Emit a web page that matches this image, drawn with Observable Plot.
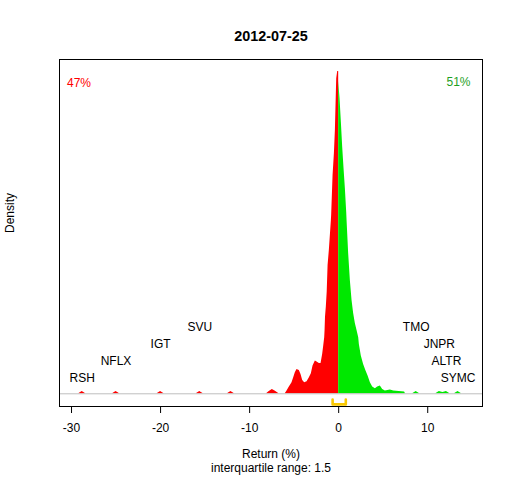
<!DOCTYPE html>
<html>
<head>
<meta charset="utf-8">
<script src="https://cdn.jsdelivr.net/npm/d3@7"></script>
<script src="https://cdn.jsdelivr.net/npm/@observablehq/plot@0.6"></script>
<style>
  html, body { margin: 0; padding: 0; background: #ffffff; }
</style>
</head>
<body>
<div id="chart"></div>
<script>
const chartTitle = "2012-07-25";
const xLabel = "Return (%)";
const iqrLabel = "interquartile range: 1.5";
const yLabel = "Density";
const pctDown = "47%";
const pctUp = "51%";
const xTicks = [-30, -20, -10, 0, 10];

// density curve (relative units), negative returns
const redX = [-29.2,-28.8,-28.4, -25.4,-25.0,-24.6, -20.4,-20.0,-19.6, -16.0,-15.6,-15.2, -12.5,-12.1,-11.7,
  -8.1,-7.8,-7.45,-7.1,-6.7,
  -6.0,-5.8,-5.54,-5.24,-5.05,-4.87,-4.68,-4.42,-4.23,-4.04,
  -3.82,-3.55,-3.29,-3.07,-2.88,-2.62,-2.43,-2.17,-1.98,-1.8,
  -1.68,-1.57,-1.53,-1.48,-1.39,-1.29,-1.19,-1.05,-0.82,-0.79,
  -0.63,-0.48,-0.37,-0.22,-0.11,0];
const redY = [0,2.3,0, 0,2.3,0, 0,2.3,0, 0,2.3,0, 0,2.3,0,
  0,2.2,4.4,2.5,0,
  0,2.7,6.7,11,16,21,24.3,23.3,19.3,13.3,
  11,12,16,20,27.7,32.7,31.7,30.3,30.3,39.3,
  47.7,56,63,76.6,86.6,101.6,128.3,143.3,173.3,178.3,
  218.3,240.3,263.3,315,322.3,322.3];

// density curve, positive returns
const greenX = [0,0.15,0.3,0.45,0.6,0.75,0.9,0.94,1.12,1.31,
  1.5,1.68,1.87,2.06,2.25,2.32,2.54,2.8,3.07,3.3,
  3.56,3.82,4.12,4.38,4.68,4.94,5.24,5.8,6.18,7.4,
  7.5, 8.3,8.7,9.1, 10.9,11.3,11.7,12.1,12.5, 13.0,13.4,13.8];
const greenY = [312.3,295.3,271.6,246.6,225.3,205.3,181.6,173.3,140.3,113.3,
  93.3,80.3,70.3,63.3,56,49.3,37.7,29.3,22.7,17.7,
  11,6.7,5,6.7,7.7,4.4,2.7,3.7,2.7,1.7,
  0, 0,2.3,0, 0,2.3,1.3,2.3,0, 0,2.3,0];

// labelled outliers
const outlierNames = ["RSH","NFLX","IGT","SVU","TMO","JNPR","ALTR","SYMC"];
const outlierReturns = [-28.8,-25.0,-20.0,-15.6,8.7,11.3,12.1,13.4];
const outlierLevels = [1,2,3,4,4,3,2,1];

// quartiles of returns
const quartiles = [-0.68, 0.8];

const redData = redX.map((x, i) => ({x, y: redY[i]}));
const greenData = greenX.map((x, i) => ({x, y: greenY[i]}));
const labelData = outlierNames.map((name, i) => ({name, ret: outlierReturns[i], level: outlierLevels[i]}));
const bracket = [
  {x: quartiles[0], y: -5.7},
  {x: quartiles[0], y: -10.6},
  {x: quartiles[1], y: -10.6},
  {x: quartiles[1], y: -5.7}
];

const chart = Plot.plot({
  width: 512,
  height: 480,
  marginLeft: 59,
  marginRight: 30,
  marginTop: 59,
  marginBottom: 74,
  style: {fontFamily: "Liberation Sans, Arial, sans-serif", fontSize: "12px", background: "#ffffff", color: "black"},
  x: {domain: [-31.35, 16.15]},
  y: {domain: [-12.7, 334.3], axis: null},
  marks: [
    Plot.areaY(redData, {x: "x", y: "y", fill: "#ff0000"}),
    Plot.areaY(greenData, {x: "x", y: "y", fill: "#00e800"}),
    Plot.ruleY([0], {stroke: "#bebebe", strokeWidth: 1}),
    Plot.line(bracket, {x: "x", y: "y", stroke: "#f8c800", strokeWidth: 2.6}),
    Plot.text(labelData, {x: "ret", y: d => d.level * 17 - 1.5, text: "name", fontSize: 12, fill: "black"}),
    Plot.frame({stroke: "black", strokeWidth: 1}),
    Plot.axisX({ticks: xTicks, tickSize: 7, tickPadding: 10, fontSize: 12, tickFormat: d => String(d), label: null}),
    Plot.text([chartTitle], {frameAnchor: "top", dy: -28.3, fontSize: 14.4, fontWeight: "bold", fill: "black"}),
    Plot.text([xLabel], {frameAnchor: "bottom", dy: 51.3, fontSize: 12, fill: "black"}),
    Plot.text([iqrLabel], {frameAnchor: "bottom", dy: 65.7, fontSize: 12, fill: "black"}),
    Plot.text([yLabel], {frameAnchor: "left", dx: -49, rotate: -90, fontSize: 12, fill: "black"}),
    Plot.text([pctDown], {frameAnchor: "top-left", textAnchor: "start", dx: 7.5, dy: 18.7, fontSize: 12, fill: "#ff0000"}),
    Plot.text([pctUp], {frameAnchor: "top-right", textAnchor: "end", dx: -12, dy: 17.7, fontSize: 12, fill: "#1f9f1f"})
  ]
});
document.getElementById("chart").appendChild(chart);
</script>
</body>
</html>
